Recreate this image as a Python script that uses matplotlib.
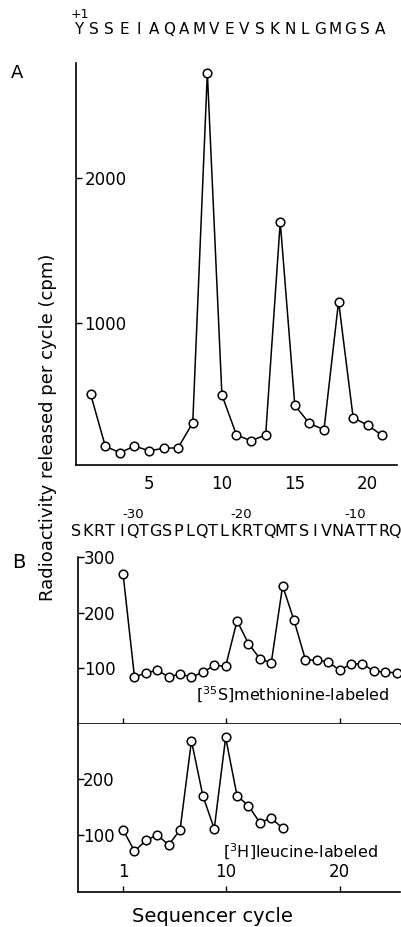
import numpy as np
import matplotlib
matplotlib.use("Agg")
import matplotlib.pyplot as plt
from matplotlib import transforms

# ---------------- data ----------------
cycles_a = list(range(1, 22))
cpm_a = [503, 145, 99, 145, 113, 129, 134, 307, 2733, 499, 222,
         182, 222, 1699, 427, 302, 259, 1147, 342, 289, 219]
seq_a = "YSSEIAQAMVEVSKNLGMGSA"

cycles_met = list(range(1, 26))
cpm_met = [269, 84, 91, 96, 84, 89, 84, 92, 105, 103, 185, 144, 117,
           109, 248, 186, 115, 114, 111, 96, 107, 108, 94, 93, 91]

cycles_leu = list(range(1, 16))
cpm_leu = [109, 71, 90, 100, 82, 109, 268, 170, 111, 274, 170, 152,
           122, 130, 112]

seq_b = "SKRTIQTGSPLQTLKRTQMTSIVNATTRQ"
pos_labels_b = ["-30", "-20", "-10"]

a_xticks = [5, 10, 15, 20]
a_yticks = [1000, 2000]
b_xticks = [1, 10, 20]
met_yticks = [100, 200, 300]
leu_yticks = [100, 200]

# ---------------- figure ----------------
W, H = 402, 927
fig = plt.figure(figsize=(W / 100, H / 100), dpi=100)
plt.rcParams['font.family'] = ['DejaVu Sans']

def frac(left, top, right, bottom):
    return [left / W, 1 - bottom / H, (right - left) / W, (bottom - top) / H]

line_kw = dict(color='black', lw=1.1, marker='o', ms=6.2, mfc='white',
               mec='black', mew=1.1, clip_on=False)

# Panel A
axA = fig.add_axes(frac(76.1, 63, 396.9, 465))
axA.plot(cycles_a, cpm_a, **line_kw)
axA.set_xlim(0, 22)
axA.set_ylim(14, 2800)
for s in ['top', 'right']:
    axA.spines[s].set_visible(False)
for s in ['left', 'bottom']:
    axA.spines[s].set_linewidth(1.2)
axA.set_xticks(a_xticks)
axA.set_xticklabels([str(v) for v in a_xticks])
axA.tick_params(axis='x', length=0, pad=7, labelsize=12)
axA.set_yticks(a_yticks)
axA.set_yticklabels([str(v) for v in a_yticks])
axA.tick_params(axis='y', direction='in', length=4.5, width=1.0,
                pad=-6.0, labelsize=12)
for lab in axA.get_yticklabels():
    lab.set_horizontalalignment('left')

trA = transforms.blended_transform_factory(axA.transData, fig.transFigure)
seq_a_x = 0.2 + 1.032 * np.arange(len(seq_a))
for x, ch in zip(seq_a_x, seq_a):
    fig.text(x, 1 - 29 / H, ch, transform=trA, ha='center', va='center',
             fontsize=11)
fig.text(79.5 / W, 1 - 15 / H, "+1", ha='center', va='center', fontsize=9)
fig.text(17.5 / W, 1 - 73 / H, "A", ha='center', va='center', fontsize=13)

# Panel B upper (methionine)
axM = fig.add_axes(frac(77.5, 557, 400, 723.5))
axM.plot(cycles_met, cpm_met, **line_kw)
axM.set_xlim(-3, 25.3)
axM.set_ylim(0, 300)
for s in ['top', 'right']:
    axM.spines[s].set_visible(False)
for s in ['left', 'bottom']:
    axM.spines[s].set_linewidth(1.2)
axM.set_xticks(b_xticks)
axM.tick_params(axis='x', direction='in', length=4, width=1.0,
                labelbottom=False)
axM.set_yticks(met_yticks)
axM.set_yticklabels([str(v) for v in met_yticks])
axM.tick_params(axis='y', direction='in', length=4, width=1.0,
                pad=-4.5, labelsize=12)
for lab in axM.get_yticklabels():
    lab.set_horizontalalignment('left')
axM.text(7.4, 51, r"[$^{35}$S]methionine-labeled", ha='left', va='center',
         fontsize=11.5)

trB = transforms.blended_transform_factory(axM.transData, fig.transFigure)
seq_b_x = -3.15 + np.arange(len(seq_b))
for x, ch in zip(seq_b_x, seq_b):
    fig.text(x, 1 - 531 / H, ch, transform=trB, ha='center', va='center',
             fontsize=11.5)
for x, t in zip([1.9, 11.4, 21.35], pos_labels_b):
    fig.text(x, 1 - 515 / H, t, transform=trB, ha='center', va='center',
             fontsize=9.5)
fig.text(19 / W, 1 - 562 / H, "B", ha='center', va='center', fontsize=14)

# Panel B lower (leucine)
axL = fig.add_axes(frac(77.5, 723.5, 400, 892))
axL.plot(cycles_leu, cpm_leu, **line_kw)
axL.set_xlim(-3, 25.3)
axL.set_ylim(-2, 299)
for s in ['top', 'right']:
    axL.spines[s].set_visible(False)
for s in ['left', 'bottom']:
    axL.spines[s].set_linewidth(1.2)
axL.set_xticks(b_xticks)
axL.set_xticklabels([str(v) for v in b_xticks])
axL.tick_params(axis='x', direction='in', length=4, width=1.0,
                pad=-8.0, labelsize=12)
for lab in axL.get_xticklabels():
    lab.set_verticalalignment('bottom')
axL.set_yticks(leu_yticks)
axL.set_yticklabels([str(v) for v in leu_yticks])
axL.tick_params(axis='y', direction='in', length=4, width=1.0,
                pad=-4.0, labelsize=12)
for lab in axL.get_yticklabels():
    lab.set_horizontalalignment('left')
axL.text(9.8, 70, r"[$^{3}$H]leucine-labeled", ha='left', va='center',
         fontsize=11.5)

fig.text(48 / W, 1 - 427 / H, "Radioactivity released per cycle (cpm)",
         rotation=90, ha='center', va='center', fontsize=13)
fig.text(212 / W, 1 - 917 / H, "Sequencer cycle", ha='center', va='center',
         fontsize=14)

fig.savefig("out.png", dpi=100)
